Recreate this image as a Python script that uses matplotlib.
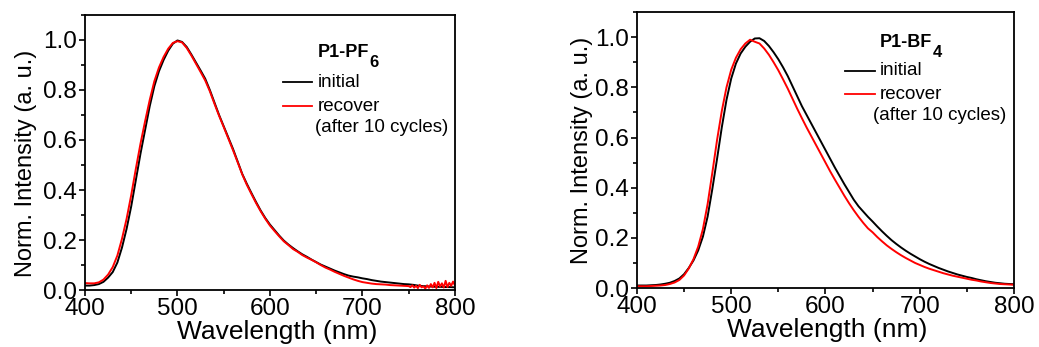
import numpy as np
import matplotlib.pyplot as plt
from matplotlib.ticker import MultipleLocator

plt.rcParams['font.family'] = ['Liberation Sans', 'DejaVu Sans']

# wavelength grids (nm)
wl = np.arange(400, 801, 5)
wl_main = np.arange(400, 751, 5)
wl_tail = np.arange(752, 801, 2)

# P1-PF6, values
pf6_initial = [0.018, 0.018, 0.020, 0.024, 0.033, 0.050, 0.072, 0.110, 0.170, 0.245,
               0.335, 0.440, 0.545, 0.640, 0.735, 0.815, 0.875, 0.920, 0.957, 0.985,
               0.998, 0.992, 0.972, 0.942, 0.910, 0.878, 0.845, 0.800, 0.750, 0.700,
               0.655, 0.610, 0.565, 0.515, 0.465, 0.425, 0.388, 0.352, 0.318, 0.288,
               0.262, 0.240, 0.218, 0.198, 0.182, 0.168, 0.155, 0.143, 0.133, 0.122,
               0.112, 0.102, 0.094, 0.086, 0.078, 0.071, 0.064, 0.058, 0.054, 0.051,
               0.047, 0.044, 0.040, 0.037, 0.034, 0.032, 0.030, 0.028, 0.026, 0.024,
               0.023, 0.021, 0.018, 0.016, 0.015, 0.014, 0.013, 0.013, 0.012, 0.012,
               0.011]
pf6_recover = [0.028, 0.027, 0.027, 0.031, 0.042, 0.062, 0.092, 0.138, 0.205, 0.285,
               0.380, 0.485, 0.585, 0.675, 0.760, 0.835, 0.890, 0.932, 0.965, 0.988,
               0.995, 0.990, 0.968, 0.938, 0.905, 0.872, 0.838, 0.795, 0.745, 0.697,
               0.652, 0.606, 0.560, 0.512, 0.463, 0.421, 0.384, 0.348, 0.315, 0.285,
               0.258, 0.236, 0.215, 0.195, 0.180, 0.164, 0.153, 0.140, 0.130, 0.121,
               0.111, 0.100, 0.090, 0.082, 0.073, 0.065, 0.057, 0.050, 0.043, 0.037,
               0.032, 0.029, 0.026, 0.024, 0.023, 0.022, 0.020, 0.019, 0.018, 0.017,
               0.016]
pf6_recover_tail = [0.012, 0.019, 0.010, 0.017, 0.008, 0.021, 0.011, 0.015, 0.006, 0.019,
                    0.009, 0.024, 0.011, 0.029, 0.008, 0.033, 0.014, 0.027, 0.010, 0.037,
                    0.012, 0.029, 0.017, 0.034, 0.019]

# P1-BF4
bf4_initial = [0.010, 0.010, 0.010, 0.011, 0.012, 0.014, 0.017, 0.021, 0.028, 0.038,
               0.055, 0.080, 0.110, 0.150, 0.205, 0.285, 0.395, 0.515, 0.640, 0.750,
               0.835, 0.895, 0.935, 0.962, 0.982, 0.995, 0.996, 0.985, 0.965, 0.940,
               0.912, 0.880, 0.845, 0.805, 0.765, 0.725, 0.690, 0.655, 0.620, 0.585,
               0.550, 0.515, 0.480, 0.447, 0.414, 0.383, 0.352, 0.326, 0.305, 0.284,
               0.265, 0.245, 0.226, 0.208, 0.191, 0.176, 0.162, 0.149, 0.137, 0.126,
               0.115, 0.105, 0.096, 0.088, 0.080, 0.073, 0.066, 0.060, 0.054, 0.049,
               0.044, 0.040, 0.035, 0.031, 0.027, 0.024, 0.021, 0.019, 0.017, 0.016,
               0.015]
bf4_recover = [0.007, 0.007, 0.007, 0.008, 0.009, 0.010, 0.012, 0.016, 0.022, 0.032,
               0.050, 0.078, 0.115, 0.165, 0.235, 0.335, 0.460, 0.590, 0.705, 0.800,
               0.870, 0.918, 0.952, 0.975, 0.990, 0.982, 0.975, 0.955, 0.930, 0.900,
               0.868, 0.832, 0.795, 0.755, 0.715, 0.677, 0.640, 0.605, 0.570, 0.535,
               0.500, 0.465, 0.432, 0.400, 0.368, 0.338, 0.310, 0.284, 0.260, 0.238,
               0.222, 0.203, 0.186, 0.170, 0.156, 0.143, 0.131, 0.120, 0.110, 0.100,
               0.092, 0.084, 0.077, 0.071, 0.065, 0.059, 0.054, 0.049, 0.045, 0.041,
               0.037, 0.033, 0.030, 0.026, 0.023, 0.020, 0.018, 0.016, 0.015, 0.014,
               0.013]

fig = plt.figure(figsize=(10.39, 3.47), dpi=100)
ax1 = fig.add_axes([0.0818, 0.164, 0.356, 0.793])
ax2 = fig.add_axes([0.613, 0.170, 0.363, 0.795])


def style_axes(ax):
    ax.set_xlim(400, 800)
    ax.set_ylim(0, 1.1)
    ax.xaxis.set_major_locator(MultipleLocator(100))
    ax.xaxis.set_minor_locator(MultipleLocator(50))
    ax.yaxis.set_major_locator(MultipleLocator(0.2))
    ax.yaxis.set_minor_locator(MultipleLocator(0.1))
    ax.yaxis.set_major_formatter(plt.FormatStrFormatter('%.1f'))
    ax.tick_params(which='both', direction='out', width=1.2, top=False, right=False)
    ax.tick_params(which='major', length=4.5, labelsize=17.5, pad=1.5)
    ax.tick_params(axis='x', which='major', pad=1)
    ax.tick_params(which='minor', length=3)
    for s in ax.spines.values():
        s.set_linewidth(1.3)
    ax.set_xlabel('Wavelength (nm)', fontsize=19)
    ax.set_ylabel('Norm. Intensity (a. u.)', fontsize=17)


def legend_block(ax, name, sub, x_line, x_text, x_note, y_title, y_rows):
    t = ax.text(x_text, y_title, name, transform=ax.transAxes, fontsize=13,
                fontweight='bold', va='baseline')
    # subscript drawn right after the compound name
    ax.annotate(sub, xy=(1.0, 0.0), xycoords=t, xytext=(0.5, 4.5),
                textcoords='offset points', fontsize=12, fontweight='bold',
                ha='left', va='top')
    ax.plot(x_line, [y_rows[0]] * 2, color='black', lw=1.3, transform=ax.transAxes)
    ax.plot(x_line, [y_rows[1]] * 2, color='red', lw=1.3, transform=ax.transAxes)
    ax.text(x_text, y_rows[0], 'initial', transform=ax.transAxes, fontsize=13.5, va='center')
    ax.text(x_text, y_rows[1], 'recover', transform=ax.transAxes, fontsize=13.5, va='center')
    ax.text(x_note, y_rows[2], '(after 10 cycles)', transform=ax.transAxes,
            fontsize=13.5, va='center')


ax1.plot(wl, pf6_initial, color='black', lw=1.4)
ax1.plot(np.concatenate([wl_main, wl_tail]), pf6_recover + pf6_recover_tail,
         color='red', lw=1.4)
style_axes(ax1)
ax1.xaxis.set_label_coords(0.52, -0.11)
ax1.yaxis.set_label_coords(-0.13, 0.46)
legend_block(ax1, 'P1-PF', '6', [0.534, 0.615], 0.629, 0.622, 0.847,
             [0.755, 0.669, 0.59])

ax2.plot(wl, bf4_initial, color='black', lw=1.4)
ax2.plot(wl, bf4_recover, color='red', lw=1.4)
style_axes(ax2)
ax2.xaxis.set_label_coords(0.505, -0.11)
ax2.yaxis.set_label_coords(-0.117, 0.5)
legend_block(ax2, 'P1-BF', '4', [0.552, 0.631], 0.645, 0.627, 0.874,
             [0.787, 0.703, 0.625])

fig.savefig('out.png', dpi=100)
